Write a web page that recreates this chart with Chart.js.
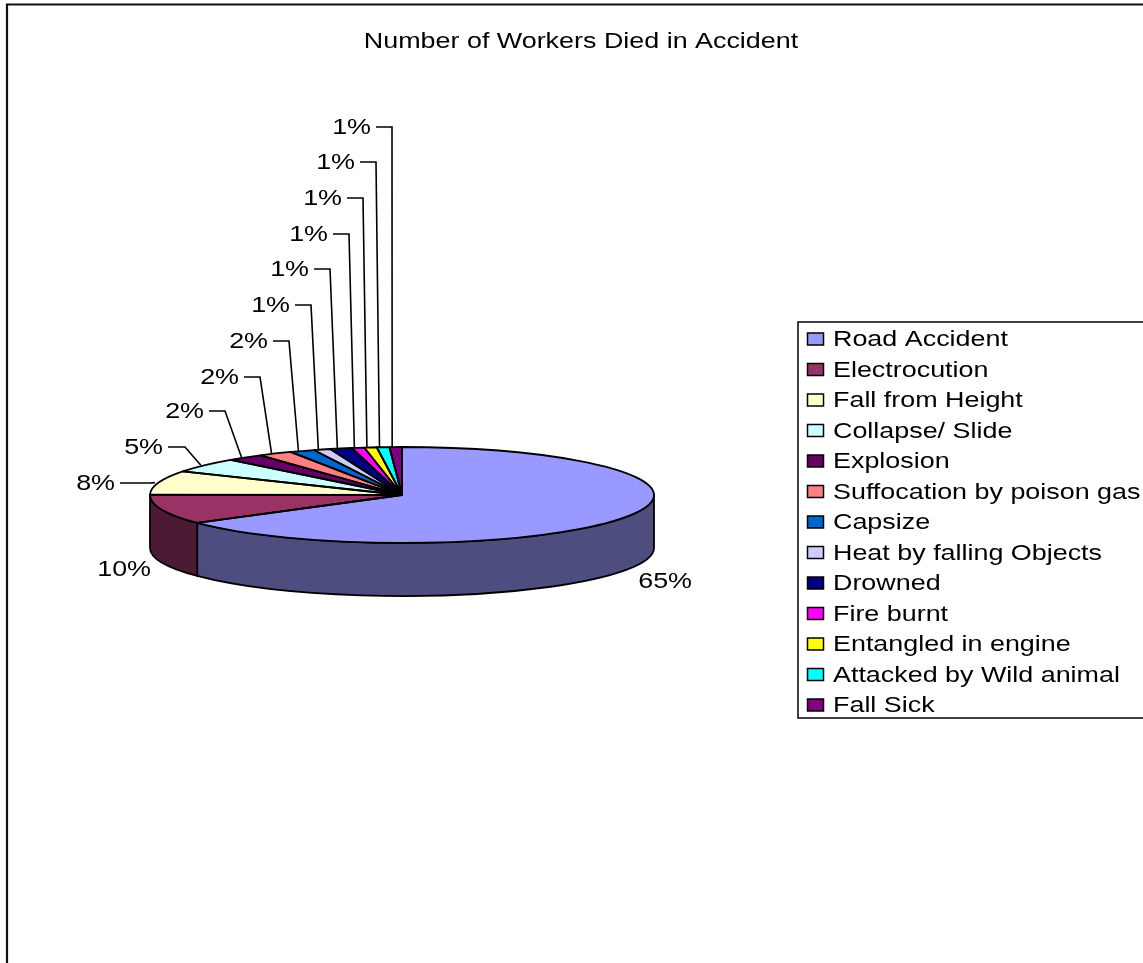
<!DOCTYPE html>
<html>
<head>
<meta charset="utf-8">
<title>Number of Workers Died in Accident</title>
<script src="https://cdn.jsdelivr.net/npm/chart.js@4/dist/chart.umd.min.js"></script>
<style>
  html, body { margin: 0; padding: 0; background: #fff; overflow: hidden; }
  canvas { display: block; }
</style>
</head>
<body>
<canvas id="pieChart" width="1143" height="963"></canvas>
<script>
// Data
const chartTitle = "Number of Workers Died in Accident";
const causes = ["Road Accident", "Electrocution", "Fall from Height", "Collapse/ Slide", "Explosion",
  "Suffocation by poison gas", "Capsize", "Heat by falling Objects", "Drowned", "Fire burnt",
  "Entangled in engine", "Attacked by Wild animal", "Fall Sick"];
const shares = [65.1, 10, 8.1, 4.9, 2.4, 2.2, 1.6, 1.1, 1.4, 0.8, 0.8, 0.8, 0.8];
const sliceColors = ["#9999FF", "#993366", "#FFFFCC", "#CCFFFF", "#660066", "#FF8080", "#0066CC",
  "#CCCCFF", "#000080", "#FF00FF", "#FFFF00", "#00FFFF", "#800080"];

// Label layout: [leader start x, elbow x, y], null = no leader
const leaderLayout = [null, null, [120, 150, 483], [168, 185, 447], [209, 225, 411], [244, 260, 377],
  [273, 289, 341], [295, 311, 305], [314, 330, 269], [333, 349, 234], [347, 363, 198], [360, 376, 162], [376, 392, 127]];
const freeLabels = { 0: [692, 582], 1: [151, 570] };

const squash = 48 / 252;   // tilt of the pie
const depth = 53;          // height of the rim
const textStretch = 1.195; // the reference text is wider than tall
const textSize = 22.5;
const leaderShift = -3.5;  // leaders land a little left of the slice middle
const fontFamily = '"Liberation Sans", Arial, sans-serif';

function wideText(ctx, text, x, y, align) {
  ctx.save();
  ctx.font = textSize + "px " + fontFamily;
  ctx.fillStyle = "#000";
  ctx.textBaseline = "middle";
  ctx.textAlign = align;
  ctx.translate(x, y);
  ctx.scale(textStretch, 1);
  ctx.fillText(text, 0, 0);
  ctx.restore();
}

function darker(hex) {
  const n = parseInt(hex.slice(1), 16);
  const half = v => Math.round(v / 2).toString(16).padStart(2, "0");
  return "#" + half(n >> 16) + half((n >> 8) & 255) + half(n & 255);
}

const pie3d = {
  id: "pie3d",
  beforeDraw(chart) {
    const ctx = chart.ctx;
    ctx.save();
    ctx.fillStyle = "#fff";
    ctx.fillRect(0, 0, chart.width, chart.height);
    // outer frame, open at right and bottom
    ctx.strokeStyle = "#111";
    ctx.lineWidth = 2.2;
    ctx.beginPath();
    ctx.moveTo(7, chart.height + 2);
    ctx.lineTo(7, 4.5);
    ctx.lineTo(chart.width + 2, 4.5);
    ctx.stroke();
    ctx.restore();
  },
  beforeDatasetDraw(chart) {
    const ctx = chart.ctx;
    const arcs = chart.getDatasetMeta(0).data;
    const cx = arcs[0].x, cy = arcs[0].y, rx = arcs[0].outerRadius, ry = rx * squash;
    // rim first, only the part of each slice facing us
    ctx.save();
    ctx.strokeStyle = "#000";
    ctx.lineWidth = 1.8;
    ctx.lineJoin = "round";
    arcs.forEach((arc, i) => {
      const a0 = Math.max(arc.startAngle, 0), a1 = Math.min(arc.endAngle, Math.PI);
      if (a1 <= a0) return;
      ctx.beginPath();
      ctx.ellipse(cx, cy, rx, ry, 0, a0, a1);
      ctx.ellipse(cx, cy + depth, rx, ry, 0, a1, a0, true);
      ctx.closePath();
      ctx.fillStyle = darker(sliceColors[i]);
      ctx.fill();
      ctx.stroke();
    });
    ctx.restore();
    // flatten the slices the library draws
    ctx.save();
    ctx.translate(cx, cy);
    ctx.scale(1, squash);
    ctx.translate(-cx, -cy);
  },
  afterDatasetDraw(chart) {
    const ctx = chart.ctx;
    ctx.restore();
    const arcs = chart.getDatasetMeta(0).data;
    const cx = arcs[0].x, cy = arcs[0].y, rx = arcs[0].outerRadius, ry = rx * squash;
    ctx.save();
    ctx.strokeStyle = "#000";
    ctx.lineWidth = 1.8;
    ctx.lineJoin = "round";
    arcs.forEach(arc => {
      ctx.beginPath();
      ctx.moveTo(cx, cy);
      ctx.ellipse(cx, cy, rx, ry, 0, arc.startAngle, arc.endAngle);
      ctx.closePath();
      ctx.stroke();
    });
    ctx.restore();
  },
  afterDraw(chart) {
    const ctx = chart.ctx;
    const arcs = chart.getDatasetMeta(0).data;
    const cx = arcs[0].x, cy = arcs[0].y, rx = arcs[0].outerRadius, ry = rx * squash;
    const total = shares.reduce((a, b) => a + b, 0);

    wideText(ctx, chartTitle, 581, 42, "center");

    // percentage labels and leader lines
    ctx.save();
    ctx.strokeStyle = "#000";
    ctx.lineWidth = 1.6;
    arcs.forEach((arc, i) => {
      const label = Math.round(shares[i] / total * 100) + "%";
      const lay = leaderLayout[i];
      if (!lay) {
        wideText(ctx, label, freeLabels[i][0], freeLabels[i][1], "right");
        return;
      }
      const mid = (arc.startAngle + arc.endAngle) / 2;
      ctx.beginPath();
      ctx.moveTo(lay[0], lay[2]);
      ctx.lineTo(lay[1], lay[2]);
      ctx.lineTo(cx + leaderShift + rx * Math.cos(mid), cy + ry * Math.sin(mid));
      ctx.stroke();
      wideText(ctx, label, lay[0] - 5, lay[2] + 1, "right");
    });
    ctx.restore();

    // legend box, right side runs off the page
    ctx.save();
    ctx.strokeStyle = "#111";
    ctx.lineWidth = 1.6;
    ctx.strokeRect(798, 322, 400, 396);
    causes.forEach((name, i) => {
      const y = 339 + 30.5 * i;
      ctx.fillStyle = sliceColors[i];
      ctx.strokeStyle = "#000";
      ctx.lineWidth = 1.5;
      ctx.fillRect(807.5, y - 6, 16, 12);
      ctx.strokeRect(807.5, y - 6, 16, 12);
      wideText(ctx, name, 833, y + 1, "left");
    });
    ctx.restore();
  }
};

new Chart(document.getElementById("pieChart"), {
  type: "pie",
  data: {
    labels: causes,
    datasets: [{
      data: shares,
      backgroundColor: sliceColors,
      borderWidth: 0
    }]
  },
  options: {
    responsive: false,
    animation: false,
    devicePixelRatio: 1,
    events: [],
    layout: { padding: { left: 150, right: 489, top: 243, bottom: 216 } },
    plugins: { legend: { display: false }, tooltip: { enabled: false }, title: { display: false } }
  },
  plugins: [pie3d]
});
</script>
</body>
</html>
